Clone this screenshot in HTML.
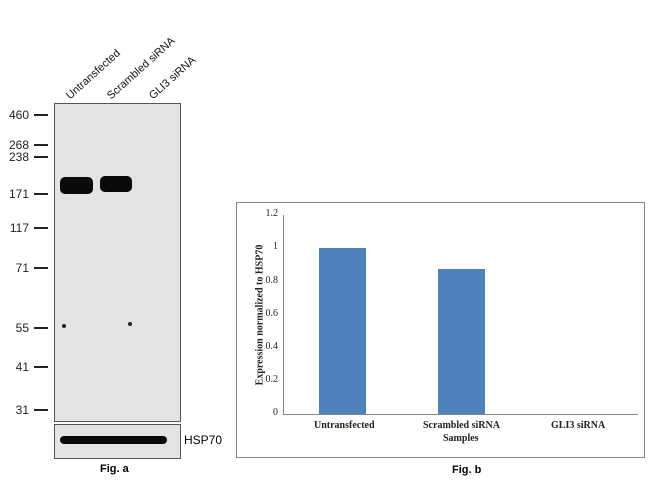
<!DOCTYPE html>
<html><head><style>
body{margin:0;width:650px;height:484px;background:#fff;overflow:hidden;position:relative;font-family:"Liberation Sans",sans-serif}
.a{position:absolute}
.mk{position:absolute;font-size:12px;color:#222;text-align:right;width:29px;left:0}
.tk{position:absolute;left:34px;width:14px;height:2px;background:#222}
.lane{position:absolute;font-size:11px;transform:rotate(-42deg);transform-origin:left bottom;white-space:nowrap;color:#111}
.ser{font-family:"Liberation Serif",serif;font-weight:bold;font-size:10px;position:absolute;color:#222}
.yl{font-family:"Liberation Serif",serif;font-size:10px;position:absolute;color:#222;text-align:right;width:20px}
</style></head><body>
<div class="lane" style="left:72px;top:90px">Untransfected</div>
<div class="lane" style="left:113px;top:90px">Scrambled siRNA</div>
<div class="lane" style="left:155px;top:90px">GLI3 siRNA</div>
<div class="a" style="left:54px;top:103px;width:125px;height:317px;background:#e4e4e4;border:1px solid #555"></div>
<div class="a" style="left:54px;top:424px;width:125px;height:33px;background:#e4e4e4;border:1px solid #555"></div>
<div class="mk" style="top:108px">460</div><div class="tk" style="top:114px"></div>
<div class="mk" style="top:138px">268</div><div class="tk" style="top:144px"></div>
<div class="mk" style="top:150px">238</div><div class="tk" style="top:156px"></div>
<div class="mk" style="top:187px">171</div><div class="tk" style="top:193px"></div>
<div class="mk" style="top:221px">117</div><div class="tk" style="top:227px"></div>
<div class="mk" style="top:261px">71</div><div class="tk" style="top:267px"></div>
<div class="mk" style="top:321px">55</div><div class="tk" style="top:327px"></div>
<div class="mk" style="top:360px">41</div><div class="tk" style="top:366px"></div>
<div class="mk" style="top:403px">31</div><div class="tk" style="top:409px"></div>
<div class="a" style="left:60px;top:177px;width:33px;height:17px;background:#0a0a0a;border-radius:5px"></div>
<div class="a" style="left:100px;top:176px;width:32px;height:16px;background:#0a0a0a;border-radius:5px"></div>
<div class="a" style="left:62px;top:324px;width:4px;height:4px;background:#222;border-radius:50%"></div>
<div class="a" style="left:128px;top:322px;width:4px;height:4px;background:#222;border-radius:50%"></div>
<div class="a" style="left:60px;top:436px;width:107px;height:8px;background:#0a0a0a;border-radius:4px"></div>
<div class="a" style="left:184px;top:433px;font-size:12px">HSP70</div>
<div class="a" style="left:100px;top:463px;font-size:11px;font-weight:bold">Fig. a</div>

<div class="a" style="left:236px;top:202px;width:407px;height:254px;border:1px solid #888"></div>
<div class="a" style="left:283px;top:215px;width:1px;height:200px;background:#888"></div>
<div class="a" style="left:283px;top:414px;width:355px;height:1px;background:#888"></div>
<div class="yl" style="left:258px;top:208px">1.2</div>
<div class="yl" style="left:258px;top:241px">1</div>
<div class="yl" style="left:258px;top:275px">0.8</div>
<div class="yl" style="left:258px;top:308px">0.6</div>
<div class="yl" style="left:258px;top:341px">0.4</div>
<div class="yl" style="left:258px;top:374px">0.2</div>
<div class="yl" style="left:258px;top:407px">0</div>
<div class="a" style="left:319px;top:248px;width:47px;height:166px;background:#4f81bd"></div>
<div class="a" style="left:438px;top:269px;width:47px;height:145px;background:#4f81bd"></div>
<div class="ser" style="left:314px;top:420px">Untransfected</div>
<div class="ser" style="left:423px;top:420px">Scrambled siRNA</div>
<div class="ser" style="left:551px;top:420px">GLI3 siRNA</div>
<div class="ser" style="left:443px;top:433px">Samples</div>
<div class="ser" style="left:260px;top:315px;transform:translate(-50%,-50%) rotate(-90deg);white-space:nowrap;width:auto">Expression normalized to HSP70</div>
<div class="a" style="left:452px;top:464px;font-size:11px;font-weight:bold">Fig. b</div>
</body></html>
